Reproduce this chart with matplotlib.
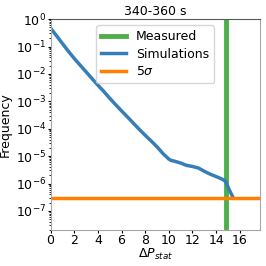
import matplotlib
matplotlib.use("Agg")
import matplotlib.pyplot as plt
from matplotlib.ticker import LogLocator, NullFormatter

# simulated distribution of Delta P_stat
dp = [0, 0.5, 1, 1.5, 2, 2.5, 3, 3.5, 4, 4.5, 5, 5.5, 6, 6.5, 7, 7.5, 8,
      8.5, 9, 9.5, 10, 10.2, 10.5, 11, 11.5, 12, 12.5, 13, 13.5, 14, 14.5,
      14.8, 15.1, 15.4]
freq = [0.47, 0.25, 0.13, 0.068, 0.037, 0.021, 0.012, 0.0068, 0.0039,
        0.0023, 0.0013, 7.6e-4, 4.5e-4, 2.7e-4, 1.6e-4, 9.5e-5, 5.8e-5,
        3.6e-5, 2.2e-5, 1.25e-5, 7.8e-6, 7.0e-6, 6.5e-6, 5.6e-6, 4.6e-6,
        4.2e-6, 3.7e-6, 2.8e-6, 2.2e-6, 1.8e-6, 1.45e-6, 1.2e-6, 6e-7, 3.3e-7]

measured = 14.8
five_sigma = 2.87e-7

fig, ax = plt.subplots(figsize=(2.66, 2.66), dpi=100)
ax.axvline(measured, color="#4daf4a", lw=3.5, label="Measured")
ax.plot(dp, freq, color="#377eb8", lw=2.5, label="Simulations")
ax.axhline(five_sigma, color="#ff7f00", lw=2.5, label=r"5$\sigma$")

ax.set_yscale("log")
ax.set_xlim(0, 17.7)
ax.set_ylim(2e-8, 1)
ax.set_xticks([0, 2, 4, 6, 8, 10, 12, 14, 16])
ax.yaxis.set_major_locator(LogLocator(base=10, numticks=20))
ax.yaxis.set_minor_locator(LogLocator(base=10, subs=range(2, 10), numticks=20))
ax.yaxis.set_minor_formatter(NullFormatter())
ax.set_xlabel(r"$\Delta P_{stat}$", fontsize=9, labelpad=0)
ax.set_ylabel("Frequency", fontsize=9, labelpad=3)
ax.set_title("340-360 s", fontsize=9, pad=3)
ax.tick_params(labelsize=9, length=2, pad=1)
ax.tick_params(which="minor", length=1.2)
for s in ["left", "right", "bottom"]:
    ax.spines[s].set_color("0.65")
ax.spines["top"].set_color("0.35")
ax.legend(loc="upper center", fontsize=9, handlelength=2,
          borderpad=0.4, labelspacing=0.35)

fig.subplots_adjust(left=0.19, right=0.977, top=0.928, bottom=0.135)
fig.savefig("out.png", dpi=100)
